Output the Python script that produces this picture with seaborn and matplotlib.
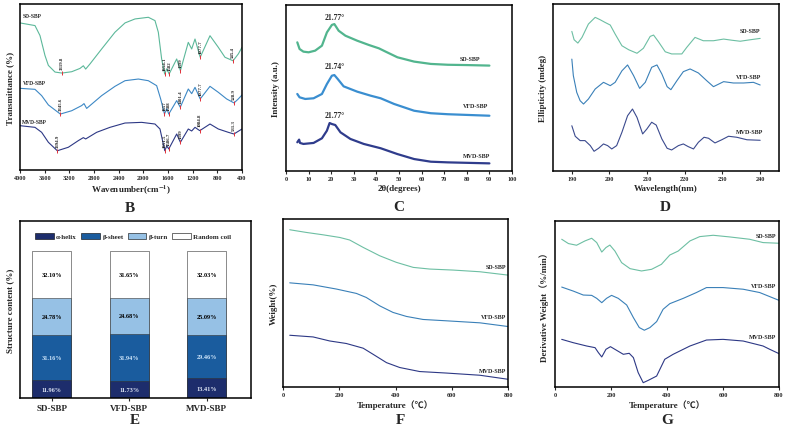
import numpy as np
import pandas as pd
import matplotlib
matplotlib.use("Agg")
import matplotlib.pyplot as plt
import seaborn as sns
from matplotlib.patches import Patch

# ---------------- data ----------------
samples = ["SD-SBP", "VFD-SBP", "MVD-SBP"]

# B: FT-IR (wavenumber, relative transmittance)
ir_wn_sd = [4000, 3757, 3676, 3595, 3540, 3432, 3320, 3162, 3027, 2973, 2935, 2865, 2676, 2460, 2297,
            2135, 1919, 1811, 1757, 1703, 1654, 1620, 1582, 1459, 1399, 1271, 1216, 1162, 1078, 919,
            784, 676, 545, 460, 400]
ir_sd = [88.6, 87.0, 81.0, 69.0, 63.0, 59.0, 58.4, 59.2, 61.2, 62.8, 60.8, 63.9, 72.9, 83.0, 88.6,
         91.0, 92.0, 90.0, 83.0, 66.9, 57.8, 61.0, 57.8, 66.9, 59.8, 76.9, 72.9, 78.9, 67.9, 80.9,
         73.9, 67.9, 65.8, 69.9, 73.9]
ir_wn_vfd = [4000, 3757, 3649, 3540, 3346, 3162, 3000, 2962, 2919, 2676, 2460, 2297, 2081, 1919, 1784,
             1719, 1657, 1620, 1588, 1459, 1401, 1271, 1216, 1162, 1078, 919, 784, 649, 529, 460, 400]
ir_vfd = [49.2, 48.6, 44.8, 39.2, 33.7, 35.7, 38.8, 40.0, 37.1, 44.8, 50.4, 53.8, 54.8, 53.8, 50.8,
          42.8, 33.7, 37.0, 33.7, 41.8, 37.8, 48.8, 46.0, 49.8, 42.8, 50.4, 46.8, 42.8, 40.4, 42.8, 45.2]
ir_wn_mvd = [4000, 3757, 3649, 3540, 3395, 3216, 3054, 2973, 2935, 2757, 2541, 2297, 2027, 1811, 1730,
             1652, 1620, 1587, 1459, 1399, 1271, 1216, 1162, 1085, 919, 784, 622, 531, 400]
ir_mvd = [26.7, 25.7, 22.7, 16.7, 11.6, 13.7, 17.7, 19.5, 18.7, 22.7, 25.7, 28.3, 28.7, 27.7, 24.7,
          11.6, 14.5, 12.7, 21.7, 16.7, 24.7, 23.5, 25.7, 23.7, 27.7, 24.7, 22.7, 21.7, 24.7]
ir_peaks_sd = [3319.8, 1654.1, 1582, 1399, 1077.7, 545.4]
ir_peaks_vfd = [3345.6, 1657, 1588, 1401.4, 1077.7, 528.9]
ir_peaks_mvd = [3394.9, 1651.5, 1586.7, 1399, 1084.8, 531.3]
ir_peak_text_sd = ["3319.8", "1654.1", "1582", "1399", "1077.7", "545.4"]
ir_peak_text_vfd = ["3345.6", "1657", "1588", "1401.4", "1077.7", "528.9"]
ir_peak_text_mvd = ["3394.9", "1651.5", "1586.7", "1399", "1084.8", "531.3"]

# C: XRD (2theta, intensity)
xrd_x_sd = [5.0, 6.0, 7.7, 10.0, 12.9, 15.9, 18.1, 20.3, 21.4, 23.3, 26.3, 31.5, 36.7, 41.1, 44.1,
            49.3, 56.7, 64.1, 71.6, 80.5, 90.0]
xrd_sd = [77.5, 73.5, 71.9, 71.5, 72.5, 75.5, 83.5, 88.0, 88.5, 84.5, 81.5, 78.5, 75.9, 73.9, 71.9,
          68.5, 65.9, 64.5, 64.0, 63.8, 63.5]
xrd_x_vfd = [5.0, 6.0, 8.5, 12.2, 15.9, 18.1, 20.3, 21.4, 22.9, 25.5, 31.5, 37.4, 41.9, 47.8, 56.7,
             64.1, 71.6, 90.0]
xrd_vfd = [46.4, 44.4, 43.4, 43.8, 46.4, 52.4, 57.4, 57.8, 55.4, 51.0, 47.8, 45.4, 43.8, 40.4, 36.3,
           34.8, 34.2, 33.3]
xrd_x_mvd = [5.0, 5.8, 6.2, 7.7, 12.2, 15.9, 18.1, 19.3, 20.3, 21.8, 24.1, 28.5, 34.4, 41.9, 49.3,
             56.7, 64.1, 71.6, 90.0]
xrd_mvd = [17.3, 18.9, 16.9, 16.3, 16.9, 19.7, 24.3, 28.9, 28.3, 27.7, 23.3, 19.3, 16.3, 13.7, 10.2,
           7.2, 5.6, 5.2, 4.6]
xrd_peak_text = ["21.77°", "21.74°", "21.77°"]

# D: CD spectra (wavelength, ellipticity)
cd_x_sd = [190.0, 190.6, 191.6, 192.7, 194.4, 196.2, 197.5, 198.8, 200.2, 201.5, 203.3, 205.1, 207.3,
           209.0, 210.8, 211.7, 213.0, 214.8, 216.5, 219.2, 220.5, 222.7, 224.9, 227.6, 230.3, 232.5,
           234.7, 237.4, 240.0]
cd_sd = [83.6, 78.6, 76.6, 80.0, 88.0, 92.0, 90.6, 89.0, 87.4, 82.0, 75.0, 72.6, 70.5, 73.5, 80.6,
         81.4, 77.4, 71.4, 70.1, 70.1, 74.0, 80.0, 78.0, 78.0, 79.0, 78.3, 77.7, 78.6, 79.4]
cd_x_vfd = [190.0, 190.4, 191.3, 192.2, 193.1, 194.4, 196.2, 198.4, 200.2, 201.5, 203.3, 204.8, 206.4,
            208.0, 209.5, 211.2, 212.6, 213.9, 215.3, 216.3, 217.9, 219.6, 221.4, 223.6, 225.8, 227.6,
            230.3, 232.9, 235.6, 238.2, 240.0]
cd_vfd = [67.0, 57.1, 47.1, 42.1, 40.1, 43.1, 49.1, 53.1, 51.1, 53.1, 60.0, 63.5, 57.1, 49.5, 53.1,
          62.1, 63.5, 58.1, 50.5, 48.7, 54.1, 59.5, 61.1, 58.7, 54.1, 50.5, 53.5, 52.7, 52.7, 53.1, 51.5]
cd_x_mvd = [190.0, 190.9, 192.2, 193.5, 194.9, 195.9, 197.1, 198.4, 199.5, 200.6, 201.9, 203.3, 204.8,
            206.1, 207.3, 208.8, 209.9, 211.2, 212.4, 213.9, 215.3, 216.5, 218.3, 219.6, 220.9, 222.3,
            223.6, 225.1, 226.3, 228.0, 229.8, 231.6, 233.8, 236.5, 240.0]
cd_mvd = [27.1, 20.8, 18.2, 18.2, 15.2, 11.8, 13.6, 16.2, 15.2, 13.2, 15.2, 23.2, 33.1, 37.1, 32.1,
          22.2, 25.1, 29.2, 27.5, 19.2, 13.6, 12.6, 15.2, 16.2, 14.6, 13.2, 17.2, 20.2, 19.6, 16.8,
          18.7, 20.8, 20.2, 18.7, 18.4]

# E: secondary structure (%)
alpha_helix = [11.96, 11.73, 13.41]
beta_sheet = [31.16, 31.94, 29.46]
beta_turn = [24.78, 24.68, 25.09]
random_coil = [32.10, 31.65, 32.03]

# F: TGA (temperature, weight)
tg_x_sd = [24, 83, 142, 202, 237, 285, 344, 403, 463, 522, 605, 700, 800]
tg_sd = [93.6, 92.0, 90.6, 89.0, 87.5, 83.1, 78.1, 74.2, 71.2, 70.2, 69.6, 68.6, 66.6]
tg_x_vfd = [24, 107, 190, 261, 296, 344, 391, 439, 498, 581, 700, 800]
tg_vfd = [62.0, 60.8, 58.3, 55.7, 53.3, 48.3, 44.4, 42.0, 40.2, 39.4, 38.2, 36.0]
tg_x_mvd = [24, 107, 166, 225, 285, 320, 368, 415, 486, 581, 700, 800]
tg_mvd = [30.8, 29.8, 27.4, 25.9, 23.1, 19.5, 14.5, 11.6, 9.2, 8.3, 7.0, 4.6]

# G: DTG (temperature, derivative weight)
dtg_x_sd = [24, 48, 77, 107, 131, 149, 167, 182, 196, 214, 238, 268, 309, 345, 380, 410, 440, 482,
            517, 565, 624, 695, 743, 800]
dtg_sd = [89.0, 86.4, 85.4, 88.0, 89.6, 87.0, 81.3, 84.0, 85.5, 81.9, 74.9, 71.3, 69.9, 70.9, 73.9,
          79.5, 81.9, 88.0, 90.6, 91.4, 90.4, 89.0, 87.0, 86.6]
dtg_x_vfd = [24, 65, 101, 131, 149, 167, 184, 202, 226, 256, 280, 301, 319, 339, 363, 386, 410, 458,
             505, 541, 600, 672, 731, 800]
dtg_vfd = [60.2, 57.8, 55.4, 55.2, 53.4, 50.8, 53.4, 55.2, 53.4, 49.4, 41.8, 35.8, 34.2, 35.8, 39.4,
           46.8, 50.2, 53.4, 56.9, 59.9, 59.9, 58.9, 56.9, 52.2]
dtg_x_mvd = [24, 65, 113, 143, 155, 167, 182, 198, 220, 244, 265, 280, 297, 315, 333, 363, 392, 422,
             482, 541, 600, 672, 743, 767, 800]
dtg_mvd = [28.7, 26.7, 24.7, 23.7, 20.7, 18.1, 22.7, 24.3, 22.1, 19.7, 20.3, 17.7, 8.7, 2.6, 4.0,
           6.6, 16.7, 19.7, 24.7, 28.3, 28.7, 27.7, 24.7, 22.7, 20.1]

# ---------------- style ----------------
sns.set_style("ticks")
plt.rcParams['font.family'] = ['Liberation Serif', 'Noto Sans CJK SC', 'DejaVu Serif']
plt.rcParams['font.weight'] = 'bold'
plt.rcParams['axes.labelweight'] = 'bold'
plt.rcParams['mathtext.fontset'] = 'stix'
plt.rcParams['axes.linewidth'] = 1.1
plt.rcParams['axes.edgecolor'] = 'black'
plt.rcParams['lines.solid_joinstyle'] = 'round'

c_sd, c_vfd, c_mvd = "#5cb89a", "#3d88c5", "#2d3885"
c_alpha, c_sheet, c_turn = "#1d2d6c", "#1a5c9e", "#96c1e5"

fig = plt.figure(figsize=(7.87, 4.31), dpi=100)
W, H = 787, 431


def make_ax(left, top, right, bottom):
    return fig.add_axes([left / W, 1 - bottom / H, (right - left) / W, (bottom - top) / H])


def style_ax(ax, xticks, xlabel, ylabel):
    ax.set_xticks(xticks)
    ax.set_yticks([])
    ax.tick_params(axis='x', direction='out', length=2, width=0.8, labelsize=4.5, pad=1.5)
    for lab in ax.get_xticklabels():
        lab.set_fontweight('bold')
    ax.set_xlabel(xlabel, fontsize=6.5, labelpad=2)
    ax.set_ylabel(ylabel, fontsize=6.5, labelpad=4)
    ax.set_ylim(0, 100)


# ---- B ----
axB = make_ax(20, 5, 242, 171)
for wn, y, col in [(ir_wn_sd, ir_sd, c_sd), (ir_wn_vfd, ir_vfd, c_vfd), (ir_wn_mvd, ir_mvd, c_mvd)]:
    sns.lineplot(x=wn, y=y, ax=axB, color=col, lw=0.8)
for wn, y, peaks, texts in [(ir_wn_sd, ir_sd, ir_peaks_sd, ir_peak_text_sd),
                            (ir_wn_vfd, ir_vfd, ir_peaks_vfd, ir_peak_text_vfd),
                            (ir_wn_mvd, ir_mvd, ir_peaks_mvd, ir_peak_text_mvd)]:
    for p, t in zip(peaks, texts):
        yy = np.interp(p, wn[::-1], y[::-1])
        axB.plot([p], [yy], marker='|', color='#e0303a', ms=3.5, mew=0.7)
        axB.text(p, yy + 2.5, t, rotation=90, fontsize=3.5, ha='center', va='bottom')
axB.set_xlim(4000, 400)
style_ax(axB, np.arange(4000, 399, -400), r"Wavenumber(cm$^{\mathbf{-1}}$)", "Transmittance (%)")
axB.text(3960, 93, "SD-SBP", fontsize=4, ha='left', va='center')
axB.text(3960, 53, "VFD-SBP", fontsize=4, ha='left', va='center')
axB.text(3960, 29, "MVD-SBP", fontsize=4, ha='left', va='center')

# ---- C ----
axC = make_ax(286, 6, 512, 172)
for x, y, col in [(xrd_x_sd, xrd_sd, "#52b58e"), (xrd_x_vfd, xrd_vfd, "#3a8ed0"), (xrd_x_mvd, xrd_mvd, "#2f3c8c")]:
    sns.lineplot(x=x, y=y, ax=axC, color=col, lw=1.6)
axC.set_xlim(0, 100)
style_ax(axC, np.arange(0, 101, 10), "2θ(degrees)", "Intensity (a.u.)")
for t, yy in zip(xrd_peak_text, [93, 63, 34]):
    axC.text(21.4, yy, t, fontsize=5.5, ha='center', va='center')
axC.text(81.5, 68, "SD-SBP", fontsize=4.3, ha='center', va='center')
axC.text(84, 39.3, "VFD-SBP", fontsize=4.3, ha='center', va='center')
axC.text(84.5, 9.6, "MVD-SBP", fontsize=4.3, ha='center', va='center')

# ---- D ----
axD = make_ax(553, 5, 779, 172)
for x, y, col in [(cd_x_sd, cd_sd, "#6dbfa3"), (cd_x_vfd, cd_vfd, "#3a80b8"), (cd_x_mvd, cd_mvd, "#3b4a8e")]:
    sns.lineplot(x=x, y=y, ax=axD, color=col, lw=0.8)
axD.set_xlim(185, 245)
style_ax(axD, np.arange(190, 241, 10), "Wavelength(nm)", "Ellipticity (mdeg)")
axD.text(237.3, 84, "SD-SBP", fontsize=4.3, ha='center', va='center')
axD.text(237.0, 56.5, "VFD-SBP", fontsize=4.3, ha='center', va='center')
axD.text(237.3, 23.5, "MVD-SBP", fontsize=4.3, ha='center', va='center')

# ---- E ----
axE = make_ax(20, 222, 251, 399)
df = pd.DataFrame({"sample": samples, "alpha": alpha_helix, "sheet": beta_sheet,
                   "turn": beta_turn, "coil": random_coil})
df["c1"] = df["alpha"]
df["c2"] = df["c1"] + df["sheet"]
df["c3"] = df["c2"] + df["turn"]
df["c4"] = df["c3"] + df["coil"]
for col, fc in [("c4", "white"), ("c3", c_turn), ("c2", c_sheet), ("c1", c_alpha)]:
    sns.barplot(data=df, x="sample", y=col, color=fc, ax=axE, width=0.5,
                edgecolor="#333333", linewidth=0.4, saturation=1)
for i, row in df.iterrows():
    for lo, val, tc in [(0, row["alpha"], "#dfe6f5"), (row["c1"], row["sheet"], "#cfe6fb"),
                        (row["c2"], row["turn"], "black"), (row["c3"], row["coil"], "black")]:
        axE.text(i, lo + val / 2, f"{val:.2f}%", fontsize=4.5, ha='center', va='center', color=tc)
axE.set_xlim(-0.41, 2.57)
axE.set_ylim(0, 120.4)
axE.set_yticks([])
axE.set_xlabel("")
axE.set_ylabel("Structure content (%)", fontsize=6.5, labelpad=4)
axE.tick_params(axis='x', direction='out', length=2, width=0.8, labelsize=6.5, pad=2)
for lab in axE.get_xticklabels():
    lab.set_fontweight('bold')
handles = [Patch(facecolor=c_alpha, edgecolor='black', lw=0.4, label="α-helix"),
           Patch(facecolor=c_sheet, edgecolor='black', lw=0.4, label="β-sheet"),
           Patch(facecolor=c_turn, edgecolor='black', lw=0.4, label="β-turn"),
           Patch(facecolor='white', edgecolor='black', lw=0.4, label="Random coil")]
axE.legend(handles=handles, loc='center', bbox_to_anchor=(0.49, 0.915), ncol=4, frameon=False,
           fontsize=5.0, handlelength=2.7, handleheight=1.1, columnspacing=0.6, handletextpad=0.35)

# ---- F ----
axF = make_ax(283, 220, 508, 388)
for x, y, col in [(tg_x_sd, tg_sd, "#6dbfa3"), (tg_x_vfd, tg_vfd, "#3a80b8"), (tg_x_mvd, tg_mvd, "#2d3885")]:
    sns.lineplot(x=x, y=y, ax=axF, color=col, lw=0.8)
axF.set_xlim(0, 800)
style_ax(axF, np.arange(0, 801, 200), "Temperature（℃）", "Weight(%)")
axF.text(792, 71.6, "SD-SBP", fontsize=4.3, ha='right', va='center')
axF.text(792, 41.7, "VFD-SBP", fontsize=4.3, ha='right', va='center')
axF.text(792, 10.1, "MVD-SBP", fontsize=4.3, ha='right', va='center')

# ---- G ----
axG = make_ax(555, 222, 779, 388)
for x, y, col in [(dtg_x_sd, dtg_sd, "#6dbfa3"), (dtg_x_vfd, dtg_vfd, "#3a80b8"), (dtg_x_mvd, dtg_mvd, "#2d3885")]:
    sns.lineplot(x=x, y=y, ax=axG, color=col, lw=0.8)
axG.set_xlim(0, 800)
style_ax(axG, np.arange(0, 801, 200), "Temperature（℃）", "Derivative Weight（%/min）")
axG.text(790, 91, "SD-SBP", fontsize=4.3, ha='right', va='center')
axG.text(790, 61.3, "VFD-SBP", fontsize=4.3, ha='right', va='center')
axG.text(790, 30.7, "MVD-SBP", fontsize=4.3, ha='right', va='center')

# panel letters
for letter, px, py in [("B", 130, 209), ("C", 399, 208), ("D", 665, 208),
                       ("E", 135, 421), ("F", 400, 421), ("G", 667, 421)]:
    fig.text(px / W, 1 - py / H, letter, fontsize=11, fontweight='bold', ha='center', va='center')

fig.savefig("out.png", dpi=100)
